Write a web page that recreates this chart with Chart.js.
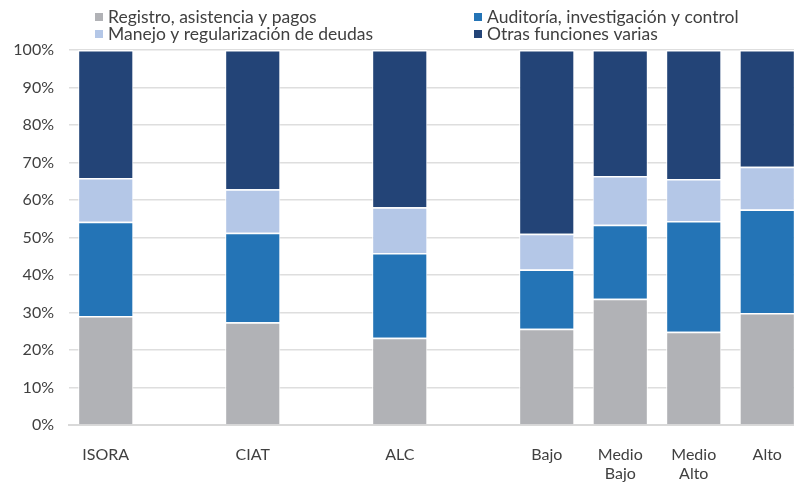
<!DOCTYPE html>
<html>
<head>
<meta charset="utf-8">
<script src="https://cdn.jsdelivr.net/npm/chart.js@4"></script>
<style>
  html, body { margin: 0; padding: 0; background: #fff; overflow: hidden; }
  #wrap { width: 804px; height: 482px; }
</style>
</head>
<body>
<div id="wrap"><canvas id="chart" width="804" height="482"></canvas></div>
<script>
// Categories (empty strings are the gaps between groups)
const labels = ["ISORA", "", "CIAT", "", "ALC", "", "Bajo", ["Medio", "Bajo"], ["Medio", "Alto"], "Alto"];

// Shares (%) per function
const registro = [29.1, null, 27.4, null, 23.3, null, 25.7, 33.7, 24.9, 29.9];
const auditoria = [25.1, null, 23.9, null, 22.6, null, 15.8, 19.7, 29.5, 27.6];
const manejo = [11.7, null, 11.6, null, 12.2, null, 9.5, 13.0, 11.2, 11.4];
const otras = [34.1, null, 37.1, null, 41.9, null, 49.0, 33.6, 34.4, 31.1];

const seriesNames = [
  "Registro, asistencia y pagos",
  "Auditoría, investigación y control",
  "Manejo y regularización de deudas",
  "Otras funciones varias",
];
const seriesColors = ["#b1b2b6", "#2474b6", "#b4c7e7", "#234477"];

const FONT = "'Source Sans Pro', Lato, sans-serif";

// legend in two columns, drawn above the plot
const legendPlugin = {
  id: "twoColLegend",
  afterDraw(chart) {
    const ctx = chart.ctx;
    const cols = [95, 474];
    const rows = [17, 34];
    ctx.save();
    ctx.font = "17.5px " + FONT;
    ctx.textBaseline = "middle";
    ctx.textAlign = "left";
    // row-major: gray, blue / light, dark
    [0, 1, 2, 3].forEach((i, k) => {
      const x = cols[k % 2];
      const y = rows[Math.floor(k / 2)];
      ctx.fillStyle = seriesColors[i];
      ctx.fillRect(x, y - 4, 8, 8);
      ctx.fillStyle = "#404040";
      ctx.fillText(seriesNames[i], x + 13, y);
    });
    ctx.restore();
  },
};

const datasets = [registro, auditoria, manejo, otras].map((d, i) => ({
  label: seriesNames[i],
  data: d,
  backgroundColor: seriesColors[i],
  borderColor: "#ffffff",
  borderWidth: { top: 1.5, left: 1, right: 1, bottom: 0 },
  borderSkipped: false,
  categoryPercentage: 1,
  barPercentage: 0.75,
}));

new Chart(document.getElementById("chart"), {
  type: "bar",
  data: { labels, datasets },
  plugins: [legendPlugin],
  options: {
    responsive: false,
    animation: false,
    layout: { padding: { top: 50, left: 0, right: 0, bottom: 0 } },
    plugins: {
      legend: { display: false },
      tooltip: { enabled: false },
    },
    scales: {
      x: {
        stacked: true,
        grid: { display: false },
        border: { display: true, color: "#d9d9d9", width: 2 },
        ticks: {
          color: "#404040",
          font: { family: FONT, size: 16 },
          padding: 12,
          maxRotation: 0,
          autoSkip: false,
        },
        afterFit(scale) { scale.height = 57; },
      },
      y: {
        stacked: true,
        min: 0,
        max: 100,
        border: { display: false },
        grid: { color: "#dedede", lineWidth: 1.5, drawTicks: false },
        ticks: {
          stepSize: 10,
          color: "#404040",
          font: { family: FONT, size: 16 },
          padding: 15,
          callback: (v) => v + "%",
        },
        afterFit(scale) { scale.width = 69; },
      },
    },
  },
});
</script>
</body>
</html>
